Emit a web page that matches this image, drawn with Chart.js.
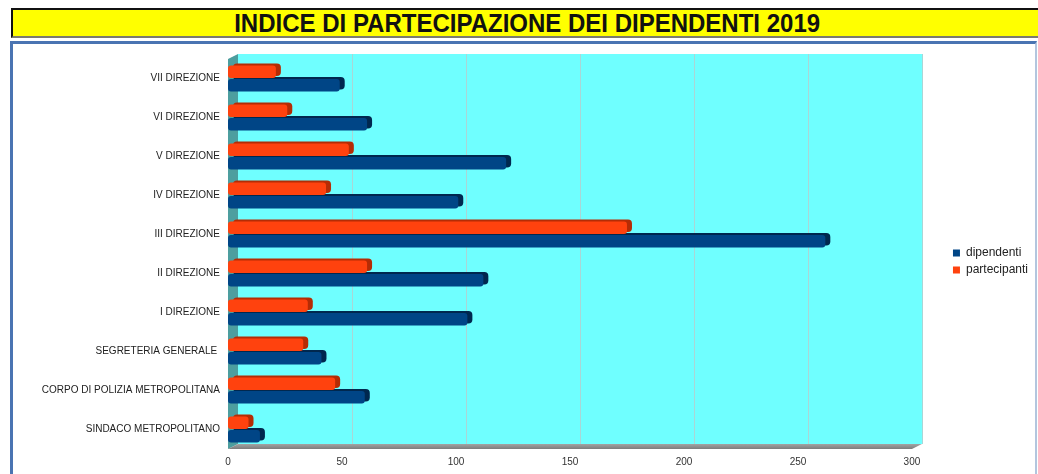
<!DOCTYPE html>
<html>
<head>
<meta charset="utf-8">
<script src="https://cdn.jsdelivr.net/npm/chart.js@4.4.1/dist/chart.umd.min.js"></script>
<style>
  html, body { margin: 0; padding: 0; background: #fff; width: 1038px; height: 474px; overflow: hidden; }
  #title {
    position: absolute; left: 11px; top: 8px; width: 1028px; height: 26px;
    background: #ffff00; border-top: 2px solid #111; border-left: 2px solid #111; border-bottom: 2px solid #7b7b70;
    font: bold 25px "Liberation Sans", Arial, sans-serif; line-height: 27px;
    text-align: center; color: #111;
  }
  #title span { display: inline-block; transform: scaleX(0.96); transform-origin: center; }
  #frame {
    position: absolute; left: 10px; top: 41px; width: 1022px; height: 450px;
    border-top: 3px solid #4a74b2; border-left: 3px solid #4a74b2; border-right: 2px solid #b3c6de;
  }
  #wrap { position: absolute; left: 0; top: 0; width: 1038px; height: 474px; }
</style>
</head>
<body>
<div id="title"><span>INDICE DI PARTECIPAZIONE DEI DIPENDENTI 2019</span></div>
<div id="frame"></div>
<div id="wrap"><canvas id="chart"></canvas></div>
<script>
const categories = [
  "SINDACO METROPOLITANO",
  "CORPO DI POLIZIA METROPOLITANA",
  "SEGRETERIA GENERALE ",
  "I DIREZIONE",
  "II DIREZIONE",
  "III DIREZIONE",
  "IV DIREZIONE",
  "V DIREZIONE",
  "VI DIREZIONE",
  "VII DIREZIONE",
];
const dipendenti = [14, 60, 41, 105, 112, 262, 101, 122, 61, 49];
const partecipanti = [9, 47, 33, 35, 61, 175, 43, 53, 26, 21];
const xTicks = [0, 50, 100, 150, 200, 250, 300];

const colors = {
  dip: "#004586",
  dipDark: "#00284f",
  part: "#ff420e",
  partDark: "#b52c05",
  wall: "#6fffff",
  side: "#4d9e9f",
  grid: "#a9d6d6",
};
// 3D depth of the box (back wall offset) and of each bar
const depth = { x: 10, y: -5 };
const barDepth = { x: 5, y: -2 };

const fake3d = {
  id: "fake3d",
  afterLayout(chart) {
    // legend sits further right than chart.js would put it
    const lg = chart.legend;
    lg.left += 36; lg.right += 36;
    lg.top -= 5; lg.bottom -= 5;
  },
  beforeDatasetsDraw(chart) {
    const { ctx, chartArea: a, scales } = chart;
    const dx = depth.x, dy = depth.y;
    ctx.save();
    // back wall
    ctx.fillStyle = colors.wall;
    ctx.fillRect(a.left + dx, a.top + dy, a.right - a.left, a.bottom - a.top);
    // gridlines on back wall
    ctx.strokeStyle = colors.grid;
    ctx.lineWidth = 1;
    for (const v of xTicks.slice(1)) {
      const px = Math.round(scales.x.getPixelForValue(v) + dx) + 0.5;
      ctx.beginPath();
      ctx.moveTo(px, a.top + dy);
      ctx.lineTo(px, a.bottom + dy);
      ctx.stroke();
    }
    // left side wall
    ctx.fillStyle = colors.side;
    ctx.beginPath();
    ctx.moveTo(a.left, a.top);
    ctx.lineTo(a.left + dx, a.top + dy);
    ctx.lineTo(a.left + dx, a.bottom + dy);
    ctx.lineTo(a.left, a.bottom);
    ctx.closePath();
    ctx.fill();
    // floor
    const fg = ctx.createLinearGradient(0, a.bottom + dy, 0, a.bottom);
    fg.addColorStop(0, "#a3a3a3");
    fg.addColorStop(1, "#7d7d7d");
    ctx.fillStyle = fg;
    ctx.beginPath();
    ctx.moveTo(a.left, a.bottom);
    ctx.lineTo(a.left + dx, a.bottom + dy);
    ctx.lineTo(a.right + dx, a.bottom + dy);
    ctx.lineTo(a.right, a.bottom);
    ctx.closePath();
    ctx.fill();

    // bar depth (drawn behind the faces)
    chart.data.datasets.forEach((ds, i) => {
      const meta = chart.getDatasetMeta(i);
      meta.data.forEach((bar) => {
        const { x, y, base, height } = bar.getProps(["x", "y", "base", "height"], true);
        const left = Math.min(x, base), w = Math.abs(x - base);
        ctx.fillStyle = ds.depthColor;
        ctx.beginPath();
        ctx.roundRect(left + barDepth.x, y - height / 2 + barDepth.y, w, height, 4);
        ctx.fill();
      });
    });
    ctx.restore();
  },
};

const faceGradient = (base, light) => (c) => {
  const bar = c.element;
  if (!bar || c.type !== "data") return base;
  const { y, height } = bar.getProps(["y", "height"], true);
  if (!Number.isFinite(y) || !Number.isFinite(height)) return base;
  const g = c.chart.ctx.createLinearGradient(0, y - height / 2, 0, y + height / 2);
  g.addColorStop(0, light);
  g.addColorStop(0.35, base);
  g.addColorStop(1, base);
  return g;
};

new Chart(document.getElementById("chart"), {
  type: "bar",
  data: {
    labels: categories,
    datasets: [
      {
        label: "partecipanti",
        data: partecipanti,
        backgroundColor: faceGradient(colors.part, "#ff6a3c"),
        depthColor: colors.partDark,
        borderRadius: 3,
        borderSkipped: false,
      },
      {
        label: "dipendenti",
        data: dipendenti,
        backgroundColor: faceGradient(colors.dip, "#0a4f93"),
        depthColor: colors.dipDark,
        borderRadius: 3,
        borderSkipped: false,
      },
    ],
  },
  options: {
    indexAxis: "y",
    responsive: true,
    maintainAspectRatio: false,
    animation: false,
    categoryPercentage: 0.7,
    barPercentage: 0.92,
    layout: { padding: { left: 0, top: 59, right: 36, bottom: 0 } },
    plugins: {
      legend: {
        position: "right",
        reverse: true,
        labels: {
          boxWidth: 7,
          boxHeight: 7,
          padding: 5,
          color: "#222",
          font: { family: "'Liberation Sans', Arial, sans-serif", size: 12 },
          generateLabels: (chart) =>
            Chart.defaults.plugins.legend.labels.generateLabels(chart).map((l) => ({
              ...l,
              fillStyle: chart.data.datasets[l.datasetIndex].label === "dipendenti" ? colors.dip : colors.part,
              strokeStyle: "transparent",
              lineWidth: 0,
            })),
        },
      },
      tooltip: { enabled: false },
    },
    scales: {
      y: {
        reverse: true,
        grid: { display: false, drawTicks: false },
        border: { display: false },
        ticks: {
          padding: 8,
          color: "#222",
          font: { family: "'Liberation Sans', Arial, sans-serif", size: 10 },
        },
        afterFit: (s) => { s.width = 228; },
      },
      x: {
        min: 0,
        max: 300,
        grid: { display: false, drawTicks: false },
        border: { display: false },
        afterBuildTicks: (s) => { s.ticks = xTicks.map((v) => ({ value: v })); },
        ticks: {
          padding: 7,
          color: "#333",
          font: { family: "'Liberation Sans', Arial, sans-serif", size: 10 },
        },
        afterFit: (s) => { s.height = 25; },
      },
    },
  },
  plugins: [fake3d],
});
</script>
</body>
</html>
